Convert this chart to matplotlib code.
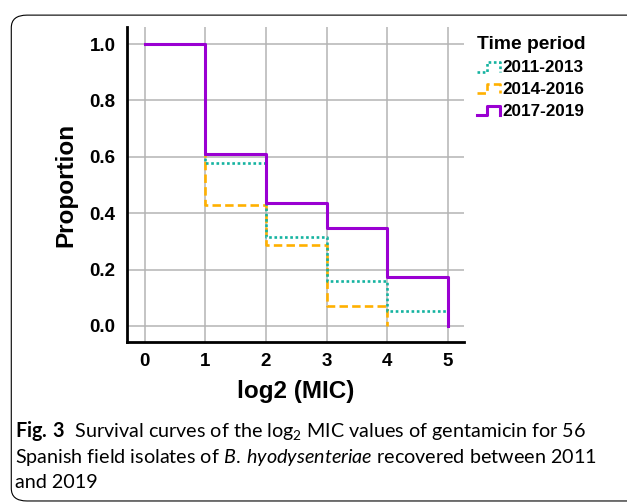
import matplotlib
matplotlib.use("Agg")
import matplotlib.pyplot as plt
from matplotlib.lines import Line2D
from matplotlib.legend_handler import HandlerBase
from matplotlib.patches import FancyBboxPatch

# log2 MIC steps and survival proportions
mic = [0, 1, 2, 3, 4, 5]
p_2011 = [1.0, 0.579, 0.316, 0.158, 0.053, 0.053]
p_2014 = [1.0, 0.429, 0.286, 0.071, 0.0]
p_2017 = [1.0, 0.609, 0.435, 0.348, 0.174, 0.0]
periods = ["2011-2013", "2014-2016", "2017-2019"]
yticks = [0.0, 0.2, 0.4, 0.6, 0.8, 1.0]

teal = "#14B3A0"
orange = "#FFB000"
purple = "#9A00D2"

plt.rcParams['font.family'] = ['Liberation Sans', 'DejaVu Sans']
plt.rcParams['mathtext.fontset'] = 'custom'
plt.rcParams['mathtext.rm'] = 'Lato'
plt.rcParams['mathtext.it'] = 'Lato:italic'
plt.rcParams['mathtext.bf'] = 'Lato:bold'


class StepHandler(HandlerBase):
    def create_artists(self, legend, orig_handle, xdescent, ydescent,
                       width, height, fontsize, trans):
        lo, hi = -ydescent + 0.05 * height, -ydescent + 0.85 * height
        xm = -xdescent + 0.45 * width
        xs = [-xdescent, xm, xm, -xdescent + width, -xdescent + width]
        ys = [lo, lo, hi, hi, lo]
        ln = Line2D(xs, ys)
        self.update_prop(ln, orig_handle, legend)
        ln.set_transform(trans)
        return [ln]


fig = plt.figure(figsize=(6.27, 5.04), dpi=100)
ax = fig.add_axes([0.202, 0.322, 0.538, 0.624])

ax.step(mic[:len(p_2014)], p_2014, where='post', color=orange, lw=1.9,
        linestyle=(0, (3.2, 1.6)), zorder=3)
ax.step(mic, p_2011, where='post', color=teal, lw=1.9,
        linestyle=(0, (1, 1)), zorder=4)
ax.step(mic, p_2017, where='post', color=purple, lw=2.2, zorder=5)

ax.set_xlim(-0.3, 5.27)
ax.set_ylim(-0.056, 1.06)
ax.set_xticks(mic)
ax.set_yticks(yticks)
ax.set_yticklabels([f"{v:.1f}" for v in yticks])
ax.tick_params(length=0, labelsize=13.5, pad=8)
for lab in ax.get_xticklabels() + ax.get_yticklabels():
    lab.set_fontweight('bold')
ax.grid(True, color='#B4B4B4', lw=1.1)
ax.set_axisbelow(True)
for s in ['top', 'right']:
    ax.spines[s].set_visible(False)
for s in ['left', 'bottom']:
    ax.spines[s].set_linewidth(2)

ax.set_xlabel("log2 (MIC)", fontsize=17.5, fontweight='bold', labelpad=7)
ax.set_ylabel("Proportion", fontsize=17.5, fontweight='bold', labelpad=9)

handles = [
    Line2D([], [], color=teal, lw=1.9, linestyle=(0, (1, 1))),
    Line2D([], [], color=orange, lw=1.9, linestyle=(0, (3.2, 1.6))),
    Line2D([], [], color=purple, lw=2.2),
]
leg = fig.legend(handles, periods, loc='upper left',
                 bbox_to_anchor=(0.760, 0.928), frameon=False,
                 handler_map={Line2D: StepHandler()},
                 prop={'weight': 'bold', 'size': 12.3},
                 title="Time period", alignment='left',
                 handlelength=1.4, handletextpad=0.1, labelspacing=0.4,
                 borderpad=0, borderaxespad=0)
leg.get_title().set_fontweight('bold')
leg.get_title().set_fontsize(13.9)

# caption
cap = [
    r"$\mathbf{Fig.\:3}$  Survival curves of the log$_2$ MIC values of gentamicin for 56",
    r"Spanish field isolates of $\mathit{B.\:hyodysenteriae}$ recovered between 2011",
    "and 2019",
]
for i, line in enumerate(cap):
    fig.text(0.024, 1 - (431 + 26 * i) / 504, line, fontsize=14.2,
             family='Lato', va='center', ha='left')

box = FancyBboxPatch((0.018, 0.006), 1.2, 0.964,
                     boxstyle="round,pad=0,rounding_size=0.025",
                     transform=fig.transFigure, fill=False,
                     edgecolor='black', lw=0.8)
fig.patches.append(box)

fig.savefig("out.png", dpi=100)
